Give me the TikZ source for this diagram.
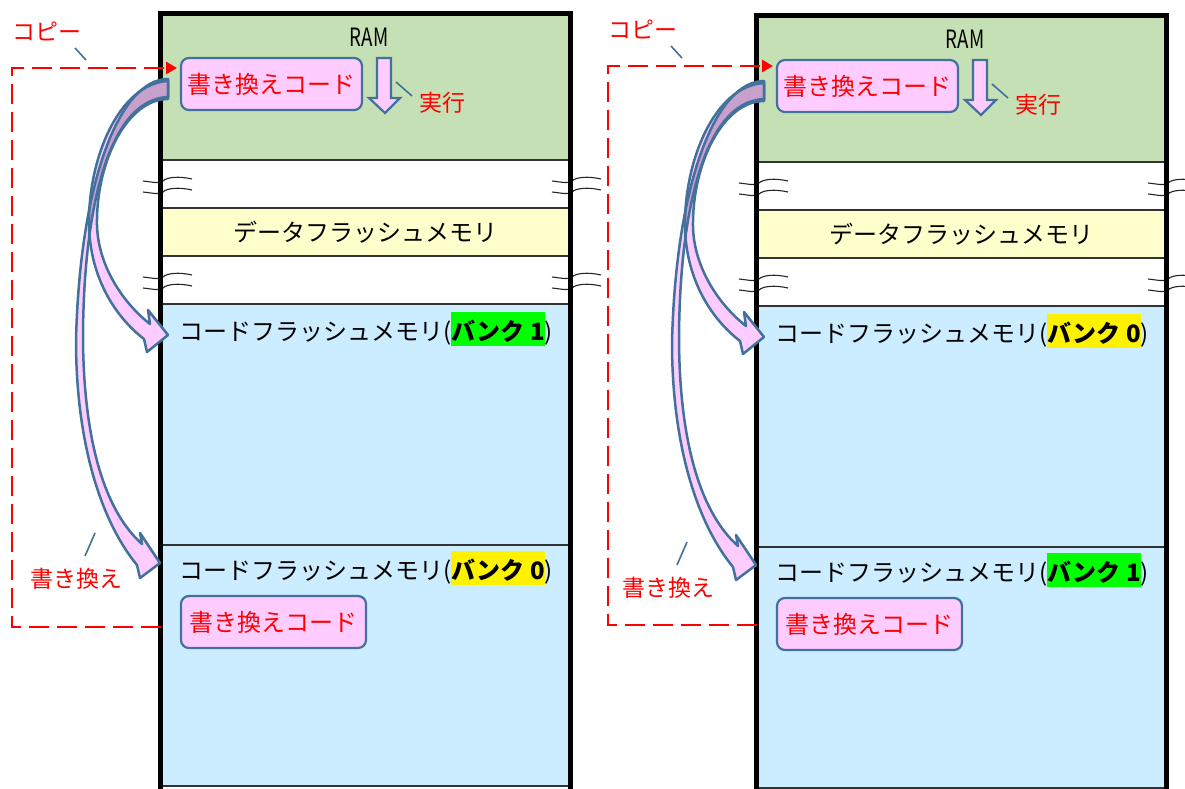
\documentclass[tikz,border=0pt]{standalone}
\usepackage{fontspec}
\setmainfont{Noto Sans CJK JP}
\usetikzlibrary{arrows.meta}
\definecolor{ramgreen}{HTML}{C5E0B4}
\definecolor{datayellow}{HTML}{FFFFCC}
\definecolor{codeblue}{HTML}{CCECFF}
\definecolor{pinkfill}{HTML}{FFCCFF}
\definecolor{boxline}{HTML}{41719C}
\definecolor{mauvefill}{HTML}{C8A0CC}
\newcommand{\fsz}[1]{\fontsize{#1pt}{#1pt}\selectfont}
\newcommand{\hlbox}[2]{{\setlength{\fboxsep}{0pt}\colorbox{#1}{\rule[-0.25em]{0pt}{1.42em}\bfseries #2}}}
\newcommand{\pathAzero}{(168,79) .. controls (120,79) and (80,180) .. (76,340) .. controls (76,450) and (104,525) .. (137,565) -- (140,578) -- (160,563) -- (140,533) -- (142,544) .. controls (106,512) and (84,445) .. (83,340) .. controls (83,220) and (105,100) .. (168,97) -- cycle}
\newcommand{\pathAone}{(168,81) .. controls (118,84) and (88,160) .. (89,225) .. controls (90,275) and (113,315) .. (144,339) -- (147,352) -- (168,335) -- (148,310) -- (150,324) .. controls (122,302) and (98,265) .. (97,225) .. controls (96,160) and (128,99) .. (168,99) -- cycle}
\tikzset{
  sect/.style={rectangle, draw=black!80, line width=1.2pt, inner sep=0pt, minimum width=409pt},
  frameline/.style={line width=5.5pt, line join=miter},
  wave/.style={line width=1.1pt, draw=black!85},
  codebox/.style={rectangle, rounded corners=8pt, fill=pinkfill, draw=boxline, line width=2.2pt, text=red, font=\fsz{24}, inner sep=0pt},
  blockarrow/.style={fill=pinkfill, draw=boxline, line width=2.2pt, line join=miter},
  curvearrow/.style={draw=boxline, line width=2.5pt, line join=round},
  lbl/.style={font=\fsz{24}, inner sep=0pt, text=black},
  redlbl/.style={font=\fsz{23}, text=red, inner sep=0pt},
  leader/.style={draw=boxline, line width=1.6pt},
  copyline/.style={draw=red, line width=2.8pt, dash pattern=on 20pt off 8pt, -{Triangle[length=11pt,width=12pt]}},
}
% #1 prefix, #2 top bank, #3 top colour, #4 bottom bank, #5 bottom colour, #6/#7 label shift, #8 copy-path shift
\newcommand{\mempanel}[8]{%
  \node[sect, fill=ramgreen, minimum height=146pt] (#1ram) at (365.5,87) {};
  \node[sect, fill=white, minimum height=48pt] (#1gapa) at (365.5,184) {};
  \node[sect, fill=datayellow, minimum height=48pt, font=\fsz{24}] (#1data) at (365.5,232) {データフラッシュメモリ};
  \node[sect, fill=white, minimum height=48pt] (#1gapb) at (365.5,280) {};
  \node[sect, fill=codeblue, minimum height=241pt] (#1codea) at (365.5,424.5) {};
  \node[sect, fill=codeblue, minimum height=241pt] (#1codeb) at (365.5,665.5) {};
  \foreach \yy in {180,191,276,287}{
    \foreach \xx in {161,570}{
      \draw[wave] (\xx-18,\yy+1) .. controls (\xx-8,\yy+2) and (\xx-2,\yy+4) .. (\xx+2,\yy+1) .. controls (\xx+6,\yy-3) and (\xx+18,\yy-4) .. (\xx+31,\yy-1);
    }
  }
  \draw[frameline] ([yshift=-5pt]#1codeb.south west) -- (#1ram.north west) -- (#1ram.north east) -- ([yshift=-5pt]#1codeb.south east);
  \node[lbl, anchor=base] (#1ramlbl) at (369,46.5) {\scalebox{0.78}[1.05]{RAM}};
  \node[codebox, minimum width=181pt, minimum height=52pt] (#1boxa) at (271.5,84) {\raisebox{-1.5pt}{書き換えコード}};
  \node[codebox, minimum width=185pt, minimum height=52pt] (#1boxb) at (273.5,622) {書き換えコード};
  \draw[blockarrow] (377,58) -- (391,58) -- (391,98) -- (400,98) -- (385,113) -- (369,98) -- (377,98) -- cycle;
  \node[redlbl] (#1exec) at (442,103) {実行};
  \coordinate (#1execA) at (396,82);
  \coordinate (#1execB) at (412,96);
  \draw[leader] (#1execA) -- (#1execB);
  \node[lbl, anchor=base west] (#1codealbl) at (179,340) {コードフラッシュメモリ(\hlbox{#3}{バンク #2})};
  \node[lbl, anchor=base west] (#1codeblbl) at (179,579) {コードフラッシュメモリ(\hlbox{#5}{バンク #4})};
  % curved block arrows
  \fill[pinkfill] \pathAzero;
  \fill[pinkfill] \pathAone;
  \begin{scope}
    \clip \pathAzero;
    \fill[mauvefill] \pathAone;
  \end{scope}
  \draw[curvearrow] \pathAzero;
  \draw[curvearrow] \pathAone;
  % copy path
  \begin{scope}[shift={(0,#8)}]
    \coordinate (#1cs) at (161,627);
    \coordinate (#1ce) at (177,68);
    \draw[copyline] (#1cs) -- (12,627) -- (12,68) -- (#1ce);
    \node[redlbl] (#1copy) at (47,31) {コピー};
    \coordinate (#1copyA) at (75,48);
    \coordinate (#1copyB) at (86,60);
    \draw[leader] (#1copyA) -- (#1copyB);
  \end{scope}
  \begin{scope}[shift={(#6,#7)}]
    \node[redlbl] (#1rw) at (76,579) {書き換え};
    \coordinate (#1rwA) at (95,533);
    \coordinate (#1rwB) at (85,556);
    \draw[leader] (#1rwA) -- (#1rwB);
  \end{scope}
}
\begin{document}
\begin{tikzpicture}[x=1pt,y=-1pt]
  \useasboundingbox (0,0) rectangle (1185,789);
  \fill[white] (0,0) rectangle (1185,789);
  \begin{scope}
    \mempanel{L}{1}{green}{0}{yellow}{0}{0}{0}
  \end{scope}
  \begin{scope}[shift={(596,2)}]
    \mempanel{R}{0}{yellow}{1}{green}{-4}{7}{-4}
  \end{scope}
\end{tikzpicture}
\end{document}
